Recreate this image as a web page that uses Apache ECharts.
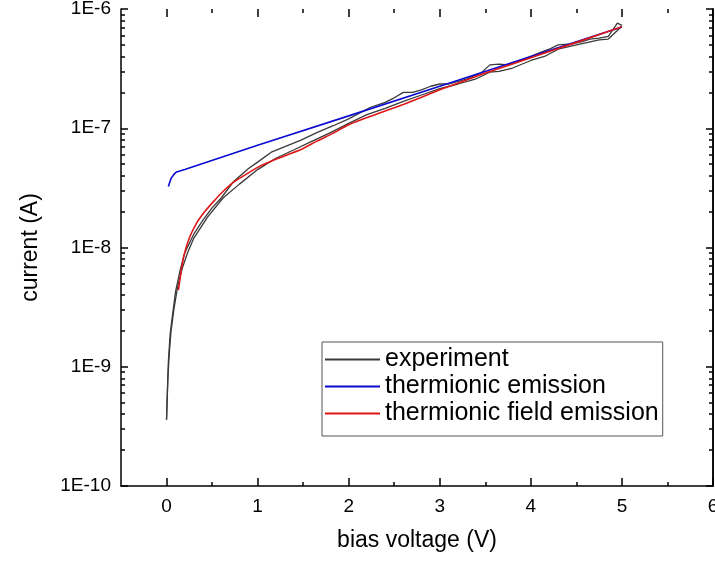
<!DOCTYPE html>
<html>
<head>
<meta charset="utf-8">
<script src="https://cdn.jsdelivr.net/npm/echarts@6/dist/echarts.min.js"></script>
<style>
  html, body { margin: 0; padding: 0; background: #fff; }
  #chart { width: 715px; height: 565px; }
</style>
</head>
<body>
<div id="chart"></div>
<script>
// experiment, two sweeps
var voltsExpA = [0, 0.01, 0.02, 0.04, 0.065, 0.1, 0.15, 0.2, 0.3, 0.4,
  0.5, 0.6, 0.74, 0.9, 1.0, 1.15, 1.3, 1.47, 1.65, 1.83,
  2.0, 2.24, 2.4, 2.5, 2.6, 2.7, 2.8, 2.9, 3.0, 3.1,
  3.3, 3.45, 3.55, 3.65, 3.75, 3.85, 4.0, 4.1, 4.2, 4.3,
  4.45, 4.55, 4.65, 4.75, 4.85, 4.95, 5.0];
var currentExpA = [3.6e-10, 6.5e-10, 1.1e-9, 1.9e-9, 2.7e-9, 4.3e-9, 6.5e-9, 9e-9, 1.3e-8, 1.7e-8,
  2.15e-8, 2.6e-8, 3.6e-8, 4.6e-8, 5.2e-8, 6.3e-8, 7.0e-8, 7.9e-8, 9.2e-8, 1.05e-7,
  1.2e-7, 1.5e-7, 1.65e-7, 1.8e-7, 2.0e-7, 2.0e-7, 2.1e-7, 2.25e-7, 2.35e-7, 2.35e-7,
  2.6e-7, 2.9e-7, 3.4e-7, 3.45e-7, 3.4e-7, 3.6e-7, 4.0e-7, 4.3e-7, 4.6e-7, 5.0e-7,
  5.1e-7, 5.3e-7, 5.6e-7, 5.7e-7, 5.9e-7, 7.6e-7, 7.3e-7];
var voltsExpB = [0, 0.015, 0.03, 0.05, 0.08, 0.12, 0.17, 0.23, 0.3, 0.45,
  0.62, 0.8, 1.0, 1.2, 1.4, 1.6, 1.8, 2.0, 2.2, 2.4,
  2.6, 2.8, 3.0, 3.2, 3.4, 3.55, 3.65, 3.8, 4.0, 4.15,
  4.3, 4.5, 4.65, 4.75, 4.85, 4.95, 5.0];
var currentExpB = [3.6e-10, 8e-10, 1.3e-9, 2.0e-9, 3.0e-9, 4.6e-9, 6.6e-9, 9e-9, 1.2e-8, 1.8e-8,
  2.6e-8, 3.4e-8, 4.5e-8, 5.6e-8, 6.6e-8, 7.8e-8, 9.2e-8, 1.1e-7, 1.3e-7, 1.47e-7,
  1.68e-7, 1.9e-7, 2.15e-7, 2.35e-7, 2.6e-7, 2.95e-7, 3.0e-7, 3.2e-7, 3.7e-7, 4.0e-7,
  4.6e-7, 5.0e-7, 5.3e-7, 5.5e-7, 5.6e-7, 6.6e-7, 7.2e-7];

// thermionic emission fit
var voltsTE = [0.02, 0.05, 0.08, 0.11, 0.2, 1.0, 2.0, 3.0, 4.0, 5.0];
var currentTE = [3.25e-8, 3.8e-8, 4.1e-8, 4.3e-8, 4.5e-8, 7.2e-8, 1.27e-7, 2.25e-7, 4.0e-7, 7.05e-7];

// thermionic field emission fit
var voltsTFE = [0.13, 0.16, 0.19, 0.25, 0.33, 0.42, 0.52, 0.62, 0.74, 0.87,
  1.0, 1.2, 1.47, 1.65, 1.83, 2.0, 2.24, 2.6, 3.0, 3.5,
  4.0, 4.5, 5.0];
var currentTFE = [4.4e-9, 6.3e-9, 8.5e-9, 1.2e-8, 1.6e-8, 2.0e-8, 2.45e-8, 2.95e-8, 3.55e-8, 4.1e-8,
  4.7e-8, 5.5e-8, 6.6e-8, 7.8e-8, 9.1e-8, 1.07e-7, 1.26e-7, 1.58e-7, 2.1e-7, 2.9e-7,
  3.9e-7, 5.25e-7, 7.1e-7];

// ticks
var xMajor = [0, 1, 2, 3, 4, 5, 6];
var xMinor = [0.5, 1.5, 2.5, 3.5, 4.5, 5.5];
var yMajor = [1e-10, 1e-9, 1e-8, 1e-7, 1e-6];
var yMinor = [];
[1e-10, 1e-9, 1e-8, 1e-7].forEach(function (d) {
  for (var k = 2; k <= 9; k++) yMinor.push(k * d);
});

function pairs(xs, ys) {
  return xs.map(function (x, i) { return [x, ys[i]]; });
}

var font = 'Liberation Sans, Arial, sans-serif';
var axisColor = '#000';

function xAxisDef(pos, ticks, len, labels) {
  return {
    type: 'value', position: pos, min: -0.5, max: 6,
    axisLine: { show: labels, onZero: false, lineStyle: { color: axisColor, width: 1.5 } },
    axisTick: { show: true, inside: true, length: len, customValues: ticks,
      lineStyle: { color: axisColor, width: 1.5 } },
    axisLabel: labels ? { show: true, customValues: xMajor, fontFamily: font, fontSize: 19,
      color: '#000', margin: 11 } : { show: false },
    splitLine: { show: false },
    name: labels && pos === 'bottom' ? 'bias voltage (V)' : '',
    nameLocation: 'middle', nameGap: 43,
    nameTextStyle: { fontFamily: font, fontSize: 23, color: '#000' }
  };
}

function yAxisDef(pos, ticks, len, labels) {
  return {
    type: 'log', logBase: 10, position: pos, min: 1e-10, max: 1e-6,
    axisLine: { show: labels || pos === 'right', onZero: false, lineStyle: { color: axisColor, width: 1.5 } },
    axisTick: { show: true, inside: true, length: len, customValues: ticks,
      lineStyle: { color: axisColor, width: 1.5 } },
    axisLabel: labels ? { show: true, customValues: yMajor, fontFamily: font, fontSize: 19,
      color: '#000', margin: 10,
      formatter: function (v) { return '1E' + Math.round(Math.log10(v)); } } : { show: false },
    splitLine: { show: false },
    minorTick: { show: false },
    name: labels ? 'current (A)' : '',
    nameLocation: 'middle', nameGap: 79,
    nameTextStyle: { fontFamily: font, fontSize: 23, color: '#000' }
  };
}

var option = {
  animation: false,
  backgroundColor: '#fff',
  grid: { left: 121, right: 2, top: 9, bottom: 79, outerBoundsMode: 'none', containLabel: false },
  xAxis: [
    xAxisDef('bottom', xMajor, 8, true),
    xAxisDef('bottom', xMinor, 4, false),
    xAxisDef('top', xMajor, 8, false),
    xAxisDef('top', xMinor, 4, false)
  ],
  yAxis: [
    yAxisDef('left', yMajor, 7, true),
    yAxisDef('left', yMinor, 4, false),
    yAxisDef('right', yMajor, 7, false),
    yAxisDef('right', yMinor, 4, false)
  ],
  legend: {
    orient: 'vertical',
    left: 322, top: 342,
    icon: 'rect',
    itemWidth: 55, itemHeight: 2,
    itemGap: 2,
    padding: [5, 4, 10, 3],
    borderColor: '#555', borderWidth: 1,
    backgroundColor: '#fff',
    textStyle: { fontFamily: font, fontSize: 25, color: '#000', lineHeight: 25 },
    data: ['experiment', 'thermionic emission', 'thermionic field emission']
  },
  series: [
    { name: 'experiment', type: 'line', data: pairs(voltsExpA, currentExpA),
      showSymbol: false, lineStyle: { color: '#3a3a3a', width: 1.3 }, itemStyle: { color: '#3a3a3a' } },
    { name: 'experiment', type: 'line', data: pairs(voltsExpB, currentExpB),
      showSymbol: false, lineStyle: { color: '#3a3a3a', width: 1.3 }, itemStyle: { color: '#3a3a3a' } },
    { name: 'thermionic emission', type: 'line', data: pairs(voltsTE, currentTE),
      showSymbol: false, lineStyle: { color: '#0a0ad0', width: 1.6 }, itemStyle: { color: '#0a0ad0' } },
    { name: 'thermionic field emission', type: 'line', data: pairs(voltsTFE, currentTFE),
      smooth: 0.15, showSymbol: false, lineStyle: { color: '#e01515', width: 1.6 }, itemStyle: { color: '#e01515' } }
  ]
};

var chart = echarts.init(document.getElementById('chart'));
chart.setOption(option);
</script>
</body>
</html>
